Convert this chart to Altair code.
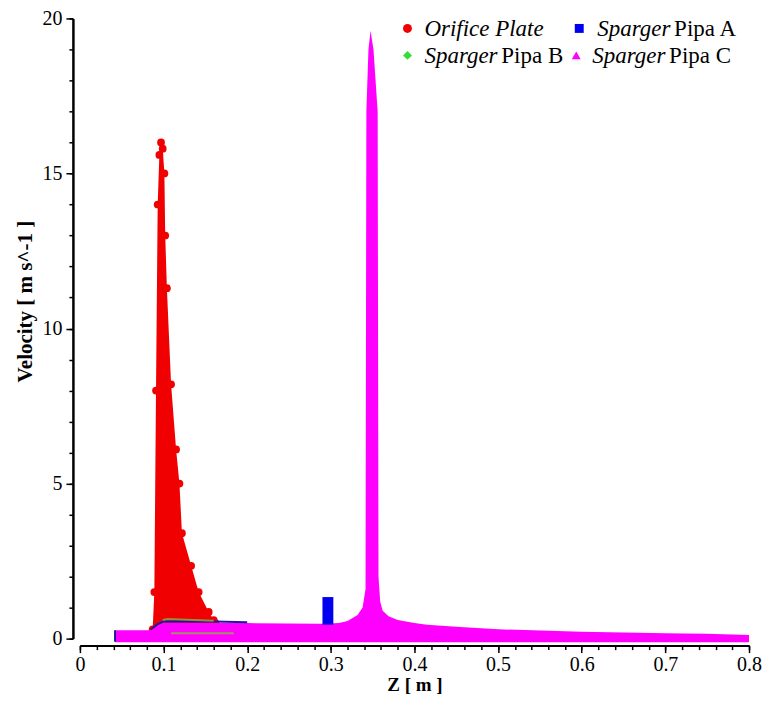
import altair as alt
import pandas as pd

# ---------------- data ----------------
# Orifice Plate: upper envelope of the dense red scatter
orifice_x = [0.087, 0.089, 0.091, 0.093, 0.095, 0.097, 0.099, 0.101, 0.102, 0.104,
             0.109, 0.115, 0.119, 0.122, 0.133, 0.142, 0.154, 0.160, 0.162]
orifice_y = [0.3, 1.5, 8.0, 14.0, 15.6, 16.0, 15.8, 15.0, 13.0, 11.3,
             8.2, 6.1, 5.0, 3.4, 2.35, 1.5, 0.86, 0.6, 0.5]
orifice_base = 0.3

# Sparger Pipa C: upper envelope of the magenta band
pipaC_x = [0.042, 0.085, 0.092, 0.100, 0.200, 0.290, 0.310, 0.320, 0.332, 0.338,
           0.3415, 0.3425, 0.345, 0.3475, 0.351, 0.356, 0.357, 0.359, 0.362, 0.369,
           0.380, 0.400, 0.415, 0.450, 0.500, 0.600, 0.700, 0.750, 0.800]
pipaC_y = [0.27, 0.27, 0.42, 0.52, 0.50, 0.48, 0.50, 0.57, 0.76, 1.0,
           1.6, 17.0, 19.0, 19.6, 19.0, 17.0, 2.0, 1.2, 0.9, 0.72,
           0.60, 0.50, 0.45, 0.38, 0.30, 0.22, 0.17, 0.16, 0.12]
pipaC_base = -0.12

# Sparger Pipa A: block near z = 0.3 and thin traces
pipaA_x = [0.290, 0.303]
pipaA_y = [1.34, 1.34]
pipaA_base = 0.45
pipaA_trace_x = [[0.042, 0.042], [0.085, 0.092, 0.100, 0.160, 0.200]]
pipaA_trace_y = [[-0.10, 0.27], [0.30, 0.45, 0.56, 0.55, 0.53]]

# Sparger Pipa B: thin traces
pipaB_trace_x = [[0.099, 0.105, 0.160], [0.109, 0.184]]
pipaB_trace_y = [[0.60, 0.63, 0.58], [0.17, 0.17]]

x_major = [round(i * 0.1, 1) for i in range(9)]
x_minor = [round(i * 0.02, 2) for i in range(41)]
y_major = [0, 5, 10, 15, 20]
y_minor = list(range(21))

legend_labels = [("Orifice Plate", ""), ("Sparger", " Pipa A"),
                 ("Sparger", " Pipa B"), ("Sparger", " Pipa C")]
legend_colors = ["#f00000", "#0000ee", "#33dd33", "#ff00ff"]
legend_shapes = ["circle", "square", "diamond", "triangle-up"]

# ---------------- chart ----------------
W, H = 670, 621
FONT = "Liberation Serif"

xs = alt.Scale(domain=[0, 0.8], nice=False, zero=False)
ys = alt.Scale(domain=[0, 20], nice=False, zero=False)

common = dict(grid=False, domainColor="black", domainWidth=2, tickColor="black",
              tickWidth=1.5, labelOverlap=False, labelFlush=False)

x_axis_major = alt.Axis(
    values=x_major, orient="bottom", offset=7, tickSize=7, title="Z [ m ]",
    format="~g", labelFont=FONT, labelFontSize=20, labelColor="black",
    labelPadding=2, titleFont=FONT, titleFontSize=19, titleFontWeight="bold",
    titleColor="black", titlePadding=1, **common)
x_axis_minor = alt.Axis(
    values=x_minor, orient="bottom", offset=7, tickSize=4, labels=False,
    title=None, **common)
y_axis_major = alt.Axis(
    values=y_major, orient="left", offset=7, tickSize=7, title="Velocity [ m s^-1 ]",
    labelFont=FONT, labelFontSize=20, labelColor="black", labelPadding=4,
    titleFont=FONT, titleFontSize=21, titleFontWeight="bold", titleColor="black",
    titlePadding=6, titleY=283, **common)
y_axis_minor = alt.Axis(
    values=y_minor, orient="left", offset=7, tickSize=4, labels=False,
    title=None, **common)


def env_df(xv, yv, base):
    return pd.DataFrame({"x": xv, "y": yv, "b": [base] * len(xv)})


def trace_df(xl, yl):
    rows = []
    for i, (xa, ya) in enumerate(zip(xl, yl)):
        for xv, yv in zip(xa, ya):
            rows.append({"x": xv, "y": yv, "seg": i})
    return pd.DataFrame(rows)


orifice_df = env_df(orifice_x, orifice_y, orifice_base)
red_area = alt.Chart(orifice_df).mark_area(color="#f00000", opacity=1).encode(
    x=alt.X("x:Q", scale=xs, axis=x_axis_major),
    y=alt.Y("y:Q", scale=ys, axis=y_axis_major),
    y2="b:Q",
)
red_pts = alt.Chart(orifice_df).mark_circle(color="#f00000", size=60, opacity=1).encode(
    x=alt.X("x:Q", scale=xs, axis=x_axis_minor),
    y=alt.Y("y:Q", scale=ys, axis=y_axis_minor),
)

mag_area = alt.Chart(env_df(pipaC_x, pipaC_y, pipaC_base)).mark_area(
    color="#ff00ff", opacity=1).encode(
    x=alt.X("x:Q", scale=xs, axis=None), y=alt.Y("y:Q", scale=ys, axis=None), y2="b:Q"
)

blue_block = alt.Chart(env_df(pipaA_x, pipaA_y, pipaA_base)).mark_area(
    color="#0000ee", opacity=1).encode(
    x=alt.X("x:Q", scale=xs, axis=None), y=alt.Y("y:Q", scale=ys, axis=None), y2="b:Q"
)
blue_lines = alt.Chart(trace_df(pipaA_trace_x, pipaA_trace_y)).mark_line(
    color="#1a1aa0", strokeWidth=2).encode(
    x=alt.X("x:Q", scale=xs, axis=None), y=alt.Y("y:Q", scale=ys, axis=None),
    detail="seg:N"
)
green_lines = alt.Chart(trace_df(pipaB_trace_x, pipaB_trace_y)).mark_line(
    color="#8fb040", strokeWidth=2, opacity=0.8).encode(
    x=alt.X("x:Q", scale=xs, axis=None), y=alt.Y("y:Q", scale=ys, axis=None),
    detail="seg:N"
)

# manual legend (mixed italic / upright labels), positions in plot pixels
one = pd.DataFrame({"k": [0]})
marker_pos = [(328, 10), (500, 10), (328, 37), (497, 37)]
text_pos = [(345, 18), (518, 18), (345, 45), (513, 45)]
legend_layers = []
for (it, up), col, shp, (mx, my), (tx, ty) in zip(
        legend_labels, legend_colors, legend_shapes, marker_pos, text_pos):
    legend_layers.append(
        alt.Chart(one).mark_point(shape=shp, filled=True, size=80, color=col, opacity=1)
        .encode(x=alt.value(mx), y=alt.value(my)))
    legend_layers.append(
        alt.Chart(one).mark_text(align="left", baseline="alphabetic", font=FONT,
                                 fontSize=23, fontStyle="italic", color="black")
        .encode(x=alt.value(tx), y=alt.value(ty), text=alt.value(it)))
    if up:
        legend_layers.append(
            alt.Chart(one).mark_text(align="left", baseline="alphabetic", font=FONT,
                                     fontSize=23, color="black")
            .encode(x=alt.value(tx + 77), y=alt.value(ty), text=alt.value(up)))

chart = alt.layer(
    red_area, red_pts, mag_area, blue_block, blue_lines, green_lines, *legend_layers
).resolve_axis(x="independent", y="independent").properties(
    width=W, height=H,
    autosize=alt.AutoSizeParams(type="none"),
    padding={"left": 72, "top": 10, "right": 13, "bottom": 60},
    background="white",
).configure_view(stroke=None)

chart.save("out.html", embed_options={"renderer": "svg", "actions": False})
